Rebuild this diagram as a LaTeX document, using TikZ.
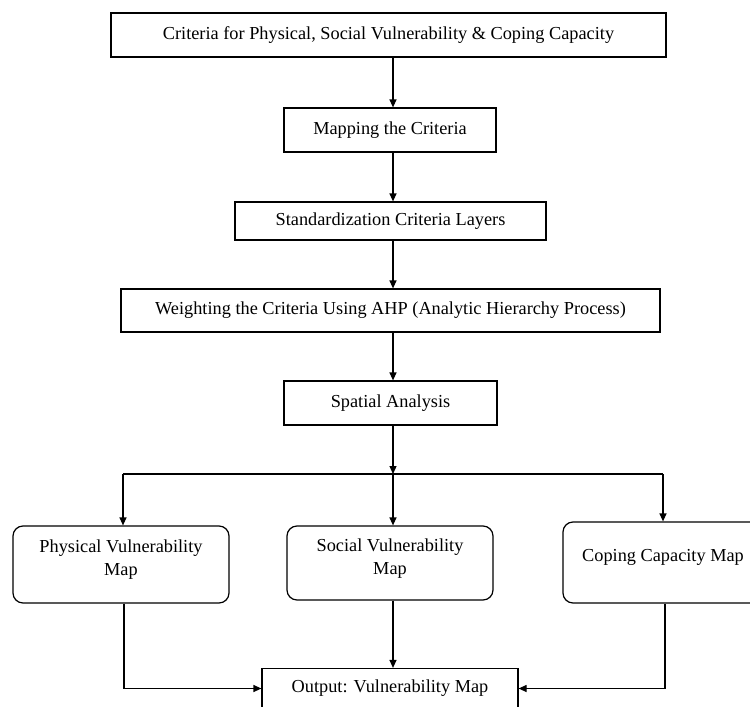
\documentclass[tikz,border=0pt]{standalone}
\usepackage{fontspec}
\setmainfont{Liberation Serif}
\usetikzlibrary{arrows.meta}
\begin{document}
\begin{tikzpicture}[x=1pt,y=1pt,
  every node/.style={font=\fontsize{18.3}{23.5}\selectfont},
  box/.style={draw,line width=1.2pt,inner sep=0pt,align=center},
  rbox/.style={box,rounded corners=10pt},
  arr/.style={line width=1.2pt,-{Triangle[length=8pt,width=7pt]}},
  ln/.style={line width=1.2pt}]
\useasboundingbox (0,0) rectangle (750,-707);
\clip (0,0) rectangle (750,-707);
\node[box,minimum width=555,minimum height=44] (top) at (388.5,-35) {Criteria for Physical, Social Vulnerability \& Coping Capacity};
\node[box,minimum width=212,minimum height=44] (map) at (390,-130) {Mapping the Criteria};
\node[box,minimum width=311,minimum height=38] (std) at (390.5,-221) {Standardization Criteria Layers};
\node[box,minimum width=539,minimum height=43] (wgt) at (390.5,-310.5) {Weighting the Criteria Using AHP (Analytic Hierarchy Process)};
\node[box,minimum width=213,minimum height=44] (spa) at (390.5,-403) {Spatial Analysis};
\node[rbox,minimum width=216,minimum height=77,label={[align=center,yshift=5pt]center:Physical Vulnerability\\Map}] (phy) at (121,-564.5) {};
\node[rbox,minimum width=206,minimum height=74,label={[align=center,yshift=4.5pt]center:Social Vulnerability\\Map}] (soc) at (390,-563) {};
\node[rbox,minimum width=200,minimum height=81,label={[align=center,yshift=5.5pt]center:Coping Capacity Map}] (cop) at (663,-562.5) {};
\node[box,minimum width=256,minimum height=40] (out) at (390,-688.5) {Output: Vulnerability Map};
\coordinate (trunk) at (393,0);
\coordinate (bc) at (393,-474);
\coordinate (bl) at (123,-474);
\coordinate (brr) at (663,-474);
\coordinate (ll) at (124,0);
\coordinate (rl) at (665,0);
\draw[arr] (top.south -| trunk) -- (map.north -| trunk);
\draw[arr] (map.south -| trunk) -- (std.north -| trunk);
\draw[arr] (std.south -| trunk) -- (wgt.north -| trunk);
\draw[arr] (wgt.south -| trunk) -- (spa.north -| trunk);
\draw[arr] (spa.south -| trunk) -- (bc);
\draw[ln] (bl) -- (brr);
\draw[arr] (bl) -- (phy.north -| bl);
\draw[arr] (bc) -- (soc.north -| bc);
\draw[arr] (brr) -- (cop.north -| brr);
\draw[arr] (soc.south -| trunk) -- (out.north -| trunk);
\draw[arr] (phy.south -| ll) |- (out.west);
\draw[arr] (cop.south -| rl) |- (out.east);
\end{tikzpicture}
\end{document}
